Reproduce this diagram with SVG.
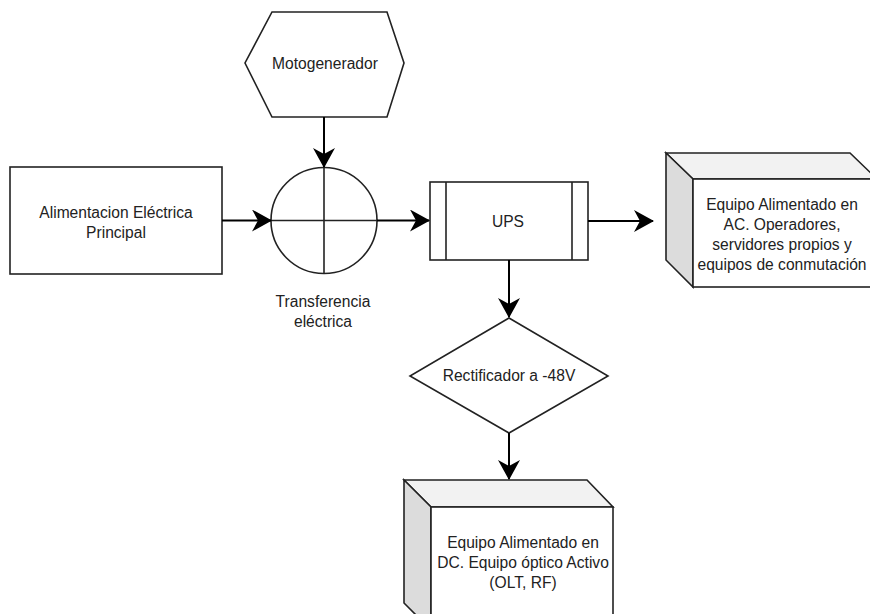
<svg xmlns="http://www.w3.org/2000/svg" width="870" height="614" viewBox="0 0 870 614">
<defs>
<style>
.s{fill:#fff;stroke:#222;stroke-width:1.6}
.t{font-family:"Liberation Sans",Arial,sans-serif;font-size:15.6px;fill:#222;text-anchor:middle}
.c{fill:none;stroke:#000;stroke-width:2}
.side{fill:#dcdcdc;stroke:#222;stroke-width:1.6}
.top{fill:#f2f2f2;stroke:#222;stroke-width:1.6}
</style>
<marker id="arr" viewBox="0 0 20 22" refX="19" refY="11" markerWidth="20" markerHeight="22" markerUnits="userSpaceOnUse" orient="auto">
<path d="M0,0 L20,11 L0,22 L6,11 z" fill="#000"/>
</marker>
</defs>
<rect width="870" height="614" fill="#fff"/>
<g id="motogenerador">
<polygon class="s" points="272,12 387,12 404,63 387,117 272,117 245,63"/>
<text class="t" x="325" y="69">Motogenerador</text>
</g>
<g id="alimentacion">
<rect class="s" x="10" y="167" width="212" height="107"/>
<text class="t" x="116" y="218">Alimentacion Eléctrica</text>
<text class="t" x="116" y="238">Principal</text>
</g>
<g id="transferencia">
<circle class="s" cx="324" cy="220.5" r="53"/>
<line x1="324" y1="167.5" x2="324" y2="273.5" stroke="#222" stroke-width="1.6"/>
<line x1="271" y1="220.5" x2="377" y2="220.5" stroke="#222" stroke-width="1.6"/>
<text class="t" x="323" y="307">Transferencia</text>
<text class="t" x="323" y="327">eléctrica</text>
</g>
<g id="ups">
<rect class="s" x="430" y="182" width="158" height="78"/>
<line x1="446" y1="182" x2="446" y2="260" stroke="#222" stroke-width="1.6"/>
<line x1="572" y1="182" x2="572" y2="260" stroke="#222" stroke-width="1.6"/>
<text class="t" x="508" y="227">UPS</text>
</g>
<g id="equipo-ac">
<polygon class="top" points="666,153 850,153 877,179 693,179"/>
<polygon class="side" points="666,153 693,179 693,287 666,260"/>
<rect class="s" x="693" y="179" width="184" height="108"/>
<text class="t" x="782" y="210">Equipo Alimentado en</text>
<text class="t" x="782" y="230">AC. Operadores,</text>
<text class="t" x="782" y="250">servidores propios y</text>
<text class="t" x="782" y="270">equipos de conmutación</text>
</g>
<g id="rectificador">
<polygon class="s" points="509,318 608,376 509,433 410,376"/>
<text class="t" x="509" y="381">Rectificador a -48V</text>
</g>
<g id="equipo-dc">
<polygon class="top" points="404,480 587,480 613,507 431,507"/>
<polygon class="side" points="404,480 431,507 431,630 404,603"/>
<rect class="s" x="431" y="507" width="182" height="130"/>
<text class="t" x="523" y="548">Equipo Alimentado en</text>
<text class="t" x="523" y="568">DC. Equipo óptico Activo</text>
<text class="t" x="523" y="588">(OLT, RF)</text>
</g>
<g id="connectors">
<line class="c" x1="324" y1="117" x2="324" y2="167" marker-end="url(#arr)"/>
<line class="c" x1="222" y1="220.5" x2="271" y2="220.5" marker-end="url(#arr)"/>
<line class="c" x1="377" y1="220.5" x2="429" y2="220.5" marker-end="url(#arr)"/>
<line class="c" x1="588" y1="221" x2="653" y2="221" marker-end="url(#arr)"/>
<line class="c" x1="509" y1="260" x2="509" y2="317" marker-end="url(#arr)"/>
<line class="c" x1="509" y1="433" x2="509" y2="479" marker-end="url(#arr)"/>
</g>
</svg>
